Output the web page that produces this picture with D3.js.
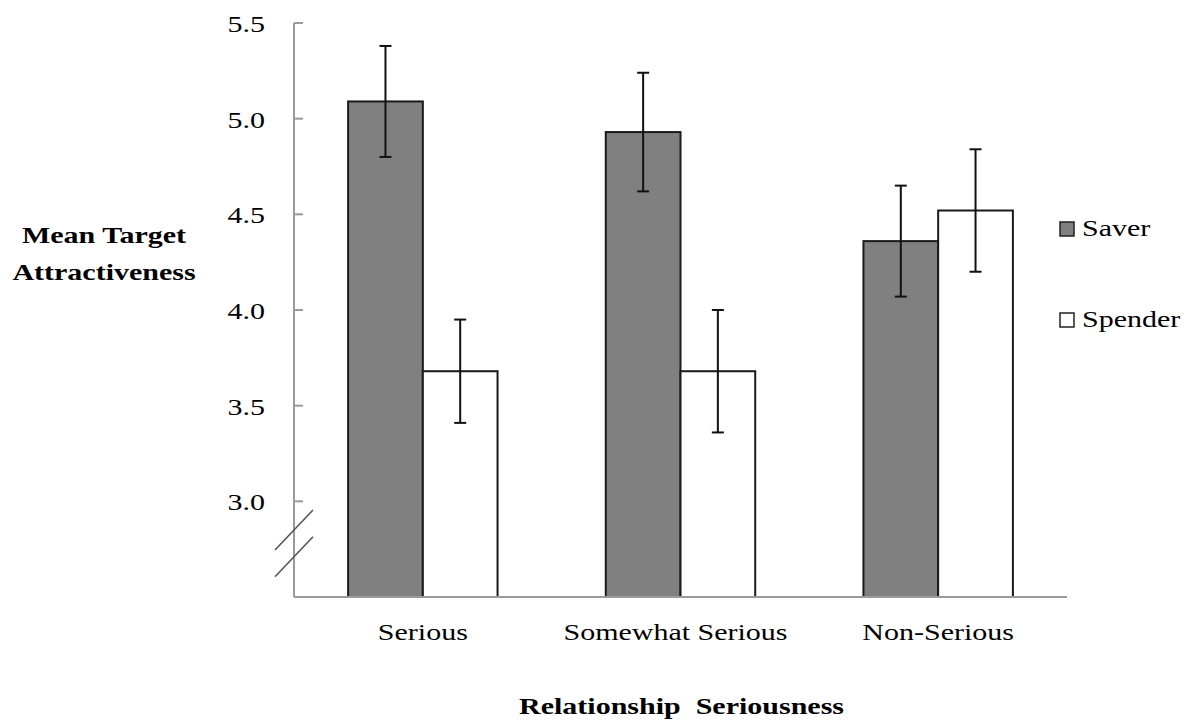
<!DOCTYPE html>
<html>
<head>
<meta charset="utf-8">
<script src="https://cdn.jsdelivr.net/npm/d3@7"></script>
<style>
  body { margin: 0; background: #fff; }
  text { font-family: "Liberation Serif", "Times New Roman", serif; fill: #000; }
</style>
</head>
<body>
<script>
// chart values
var categories = ["Serious", "Somewhat Serious", "Non-Serious"];
var seriesNames = ["Saver", "Spender"];
var saverMeans = [5.09, 4.93, 4.36];
var saverErrors = [0.29, 0.31, 0.29];
var spenderMeans = [3.68, 3.68, 4.52];
var spenderErrors = [0.27, 0.32, 0.32];
var yTicks = [3.0, 3.5, 4.0, 4.5, 5.0, 5.5];
var breakMarks = [2.85, 2.71];

var width = 1190, height = 725;
var plotLeft = 294, plotRight = 1067, plotTop = 23, plotBottom = 597;
var stretch = 1.25; // the original text is wider than it is tall

var svg = d3.select("body").append("svg")
    .attr("width", width)
    .attr("height", height);

var x = d3.scaleBand().domain(categories).range([plotLeft, plotRight]);
var y = d3.scaleLinear().domain([2.5, 5.5]).range([plotBottom, plotTop]);
var barWidth = x.bandwidth() * 0.29;
var x1 = d3.scaleBand().domain(seriesNames).range([-barWidth, barWidth]);
var fills = d3.scaleOrdinal().domain(seriesNames).range(["#808080", "#ffffff"]);

// stretched text helper
function label(tx, ty, txt, anchor, size, weight) {
    return svg.append("text")
        .attr("transform", "translate(" + tx + "," + ty + ") scale(" + stretch + ",1)")
        .attr("text-anchor", anchor)
        .style("font-size", size + "px")
        .style("font-weight", weight || "normal")
        .text(txt);
}

// rows: one per bar
var rows = [];
categories.forEach(function (c, i) {
    rows.push({ cat: c, s: "Saver", mean: saverMeans[i], err: saverErrors[i] });
    rows.push({ cat: c, s: "Spender", mean: spenderMeans[i], err: spenderErrors[i] });
});

// axes
var axisColor = "#9a9a9a";
svg.append("line")
    .attr("x1", plotLeft).attr("x2", plotLeft)
    .attr("y1", y(5.5)).attr("y2", plotBottom)
    .attr("stroke", axisColor).attr("stroke-width", 2);

svg.selectAll(".tick")
    .data(yTicks)
    .enter().append("line")
    .attr("class", "tick")
    .attr("x1", plotLeft).attr("x2", plotLeft + 9)
    .attr("y1", function (d) { return y(d); })
    .attr("y2", function (d) { return y(d); })
    .attr("stroke", axisColor).attr("stroke-width", 2);

yTicks.forEach(function (t) {
    label(plotLeft - 29, y(t) + 9, d3.format(".1f")(t), "end", 24);
});

// break marks on the axis
breakMarks.forEach(function (b) {
    svg.append("line")
        .attr("x1", plotLeft - 19).attr("y1", y(b) + 20)
        .attr("x2", plotLeft + 19).attr("y2", y(b) - 20)
        .attr("stroke", "#555").attr("stroke-width", 1.6);
});

// bars
svg.selectAll(".bar")
    .data(rows)
    .enter().append("rect")
    .attr("class", "bar")
    .attr("x", function (d) { return x(d.cat) + x.bandwidth() / 2 + x1(d.s); })
    .attr("width", x1.bandwidth())
    .attr("y", function (d) { return y(d.mean); })
    .attr("height", function (d) { return plotBottom - y(d.mean); })
    .attr("fill", function (d) { return fills(d.s); })
    .attr("stroke", "#1a1a1a")
    .attr("stroke-width", 2);

svg.append("line")
    .attr("x1", plotLeft).attr("x2", plotRight)
    .attr("y1", plotBottom).attr("y2", plotBottom)
    .attr("stroke", axisColor).attr("stroke-width", 2);

// error bars
var errs = svg.selectAll(".err")
    .data(rows)
    .enter().append("g")
    .attr("class", "err")
    .attr("transform", function (d) {
        return "translate(" + (x(d.cat) + x.bandwidth() / 2 + x1(d.s) + x1.bandwidth() / 2) + ",0)";
    });

errs.append("line")
    .attr("y1", function (d) { return y(d.mean + d.err); })
    .attr("y2", function (d) { return y(d.mean - d.err); })
    .attr("stroke", "#111").attr("stroke-width", 2);

[1, -1].forEach(function (sign) {
    errs.append("line")
        .attr("x1", -6).attr("x2", 6)
        .attr("y1", function (d) { return y(d.mean + sign * d.err); })
        .attr("y2", function (d) { return y(d.mean + sign * d.err); })
        .attr("stroke", "#111").attr("stroke-width", 2);
});

// category labels
categories.forEach(function (c) {
    label(x(c) + x.bandwidth() / 2 - (c === "Somewhat Serious" ? 5 : 0), 640, c, "middle", 24);
});

// axis titles
label(104, 243, "Mean Target", "middle", 24, "bold");
label(104, 280, "Attractiveness", "middle", 24, "bold");
label((plotLeft + plotRight) / 2 + 1, 714, "Relationship  Seriousness", "middle", 24, "bold")
    .style("white-space", "pre");

// legend
seriesNames.forEach(function (s, i) {
    var ly = 236 + i * 91;
    svg.append("rect")
        .attr("x", 1060).attr("y", ly - 14)
        .attr("width", 14).attr("height", 14)
        .attr("fill", fills(s))
        .attr("stroke", "#222").attr("stroke-width", 1.5);
    label(1082, ly, s, "start", 24);
});
</script>
</body>
</html>
